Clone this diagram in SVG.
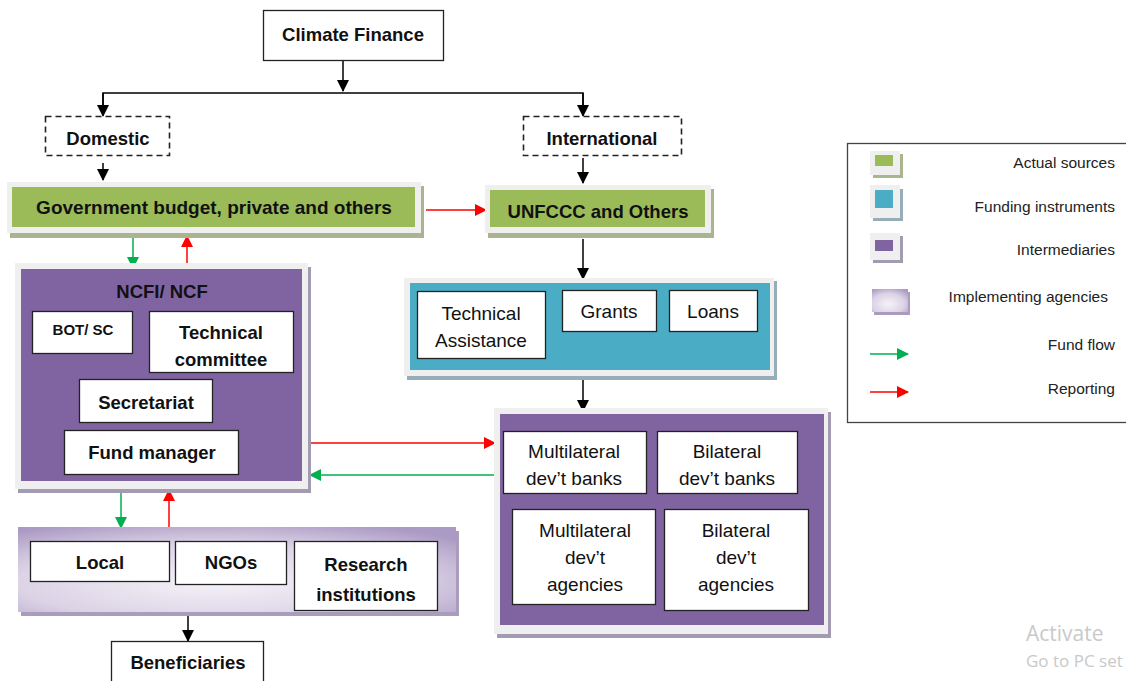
<svg xmlns="http://www.w3.org/2000/svg" width="1126" height="681" viewBox="0 0 1126 681">
  <style>
    .t { font-family: "Liberation Sans", Arial, sans-serif; fill: #111; text-anchor: middle; }
    .b { font-weight: bold; font-size: 18.5px; }
    .r { font-size: 19px; }
    .lg { font-family: "Liberation Sans", Arial, sans-serif; font-size: 15.5px; fill: #222; text-anchor: end; }
    .wbox { fill: #ffffff; stroke: #222; stroke-width: 1.3; }
    .dash { fill: #ffffff; stroke: #222; stroke-width: 1.6; stroke-dasharray: 6 4; }
    .frame { fill: #efefef; }
    .green { fill: #9bbb59; }
    .teal { fill: #4bacc6; }
    .purple { fill: #8064a2; }
    .k { stroke: #000; stroke-width: 1.5; fill: none; }
    .g { stroke: #00b050; stroke-width: 1.5; fill: none; }
    .rd { stroke: #ff0000; stroke-width: 1.5; fill: none; }
  </style>
  <defs>
    <marker id="ak" markerUnits="userSpaceOnUse" markerWidth="12" markerHeight="12" refX="11" refY="6" orient="auto">
      <path d="M0,0 L12,6 L0,12 Z" fill="#000"/>
    </marker>
    <marker id="ag" markerUnits="userSpaceOnUse" markerWidth="12" markerHeight="12" refX="11" refY="6" orient="auto">
      <path d="M0,0 L12,6 L0,12 Z" fill="#00b050"/>
    </marker>
    <marker id="ar" markerUnits="userSpaceOnUse" markerWidth="12" markerHeight="12" refX="11" refY="6" orient="auto">
      <path d="M0,0 L12,6 L0,12 Z" fill="#ff0000"/>
    </marker>
    <radialGradient id="lav" cx="0.45" cy="0.65" r="0.75">
      <stop offset="0" stop-color="#f5f2f8"/>
      <stop offset="0.6" stop-color="#dcd3e6"/>
      <stop offset="1" stop-color="#ab9ac3"/>
    </radialGradient>
  </defs>

  <rect width="1126" height="681" fill="#ffffff"/>

  <!-- connectors -->
  <g id="connectors">
    <path class="k" d="M343,60 V91" marker-end="url(#ak)"/>
    <path class="k" d="M103,115 V93 H583 V115" />
    <path class="k" d="M103,93 V116" marker-end="url(#ak)"/>
    <path class="k" d="M583,93 V116" marker-end="url(#ak)"/>
    <path class="k" d="M103,163 V180" marker-end="url(#ak)"/>
    <path class="k" d="M583,158 V183" marker-end="url(#ak)"/>
    <path class="rd" d="M426,210 H486" marker-end="url(#ar)"/>
    <path class="k" d="M583,239 V279" marker-end="url(#ak)"/>
    <path class="k" d="M583,380 V411" marker-end="url(#ak)"/>
    <path class="g" d="M133,238 V268" marker-end="url(#ag)"/>
    <path class="rd" d="M187,263 V236" marker-end="url(#ar)"/>
    <path class="rd" d="M311,443 H495" marker-end="url(#ar)"/>
    <path class="g" d="M494,475 H310" marker-end="url(#ag)"/>
    <path class="g" d="M121,491 V528" marker-end="url(#ag)"/>
    <path class="rd" d="M169,528 V490" marker-end="url(#ar)"/>
    <path class="k" d="M188,616 V641" marker-end="url(#ak)"/>
  </g>

  <g id="climate-finance">
    <rect class="wbox" x="263.5" y="10.5" width="180" height="50"/>
    <text class="t b" x="353" y="41">Climate Finance</text>
  </g>

  <g id="domestic">
    <rect class="dash" x="45.5" y="116.5" width="124" height="39"/>
    <text class="t b" x="108" y="145">Domestic</text>
  </g>

  <g id="international">
    <rect class="dash" x="523.5" y="116.5" width="158" height="39"/>
    <text class="t b" x="602" y="145">International</text>
  </g>

  <g id="government-budget">
    <rect x="10" y="186" width="414" height="52" fill="#aab590"/>
    <rect class="frame" x="7" y="182" width="414" height="51"/>
    <rect class="green" x="12" y="187" width="403" height="40"/>
    <text class="t b" style="font-size:19px" x="214" y="214">Government budget, private and others</text>
  </g>

  <g id="unfccc">
    <rect x="488" y="189" width="226" height="49" fill="#aab590"/>
    <rect class="frame" x="485" y="185" width="226" height="48"/>
    <rect class="green" x="490" y="190" width="215" height="37"/>
    <text class="t b" x="598" y="218">UNFCCC and Others</text>
  </g>

  <g id="funding-instruments">
    <rect x="407" y="281" width="370" height="99" fill="#95aeb8"/>
    <rect class="frame" x="404" y="278" width="370" height="98"/>
    <rect class="teal" x="410" y="283" width="360" height="87"/>
    <g id="technical-assistance">
      <rect class="wbox" x="417.5" y="291.5" width="128" height="67"/>
      <text class="t r" x="481" y="320">Technical</text>
      <text class="t r" x="481" y="347">Assistance</text>
    </g>
    <g id="grants">
      <rect class="wbox" x="562.5" y="290.5" width="94" height="41"/>
      <text class="t r" x="609" y="318">Grants</text>
    </g>
    <g id="loans">
      <rect class="wbox" x="669.5" y="290.5" width="88" height="41"/>
      <text class="t r" x="713" y="318">Loans</text>
    </g>
  </g>

  <g id="ncfi-ncf">
    <rect x="18" y="267" width="293" height="226" fill="#a39bb1"/>
    <rect class="frame" x="15" y="263" width="293" height="226"/>
    <rect class="purple" x="21" y="269" width="281" height="212"/>
    <text class="t b" x="162" y="298">NCFI/ NCF</text>
    <g id="bot-sc">
      <rect class="wbox" x="32.5" y="311.5" width="100" height="42"/>
      <text class="t" style="font-weight:bold;font-size:15px" x="83" y="335">BOT/ SC</text>
    </g>
    <g id="technical-committee">
      <rect class="wbox" x="149.5" y="311.5" width="144" height="61"/>
      <text class="t b" x="221" y="339">Technical</text>
      <text class="t b" x="221" y="366">committee</text>
    </g>
    <g id="secretariat">
      <rect class="wbox" x="79.5" y="379.5" width="133" height="43"/>
      <text class="t b" x="146" y="409">Secretariat</text>
    </g>
    <g id="fund-manager">
      <rect class="wbox" x="64.5" y="430.5" width="174" height="44"/>
      <text class="t b" x="152" y="459">Fund manager</text>
    </g>
  </g>

  <g id="intermediaries">
    <rect x="497" y="412" width="334" height="226" fill="#a39bb1"/>
    <rect class="frame" x="494" y="408" width="334" height="226"/>
    <rect class="purple" x="500" y="414" width="324" height="211"/>
    <g id="multilateral-banks">
      <rect class="wbox" x="503.5" y="431.5" width="143" height="62"/>
      <text class="t r" x="574" y="458">Multilateral</text>
      <text class="t r" x="574" y="485">dev’t banks</text>
    </g>
    <g id="bilateral-banks">
      <rect class="wbox" x="657.5" y="431.5" width="140" height="62"/>
      <text class="t r" x="727" y="458">Bilateral</text>
      <text class="t r" x="727" y="485">dev’t banks</text>
    </g>
    <g id="multilateral-agencies">
      <rect class="wbox" x="512.5" y="509.5" width="143" height="95"/>
      <text class="t r" x="585" y="537">Multilateral</text>
      <text class="t r" x="585" y="564">dev’t</text>
      <text class="t r" x="585" y="591">agencies</text>
    </g>
    <g id="bilateral-agencies">
      <rect class="wbox" x="664.5" y="509.5" width="144" height="101"/>
      <text class="t r" x="736" y="537">Bilateral</text>
      <text class="t r" x="736" y="564">dev’t</text>
      <text class="t r" x="736" y="591">agencies</text>
    </g>
  </g>

  <g id="implementing-agencies">
    <rect x="21" y="531" width="438" height="85" fill="#a99cbd"/>
    <rect x="18" y="527" width="438" height="85" fill="url(#lav)"/>
    <g id="local">
      <rect class="wbox" x="30.5" y="541.5" width="139" height="40"/>
      <text class="t b" x="100" y="569">Local</text>
    </g>
    <g id="ngos">
      <rect class="wbox" x="175.5" y="541.5" width="111" height="43"/>
      <text class="t b" x="231" y="569">NGOs</text>
    </g>
    <g id="research-institutions">
      <rect class="wbox" x="294.5" y="541.5" width="143" height="69"/>
      <text class="t b" x="366" y="571">Research</text>
      <text class="t b" x="366" y="601">institutions</text>
    </g>
  </g>

  <g id="beneficiaries">
    <rect class="wbox" x="111.5" y="641.5" width="152" height="50"/>
    <text class="t b" x="188" y="669">Beneficiaries</text>
  </g>

  <g id="legend">
    <rect x="847.5" y="143.5" width="290" height="279" fill="#ffffff" stroke="#444" stroke-width="1.3"/>
    <rect x="873" y="154" width="30" height="24" fill="#aab590"/>
    <rect x="870" y="151" width="30" height="24" fill="#efefef"/>
    <rect x="875" y="155" width="18" height="11" fill="#9bbb59"/>
    <text class="lg" x="1115" y="168">Actual sources</text>

    <rect x="873" y="189" width="30" height="32" fill="#95aeb8"/>
    <rect x="870" y="185" width="30" height="33" fill="#efefef"/>
    <rect x="875" y="190" width="18" height="18" fill="#4bacc6"/>
    <text class="lg" x="1115" y="212">Funding instruments</text>

    <rect x="873" y="236" width="30" height="27" fill="#a39bb1"/>
    <rect x="870" y="233" width="30" height="27" fill="#efefef"/>
    <rect x="875" y="240" width="18" height="11" fill="#8064a2"/>
    <text class="lg" x="1115" y="255">Intermediaries</text>

    <rect x="874" y="292" width="36" height="23" fill="#a99cbd"/>
    <rect x="872" y="289" width="36" height="23" fill="url(#lav)"/>
    <text class="lg" x="1108" y="302">Implementing agencies</text>

    <path class="g" d="M870,354 H908" marker-end="url(#ag)"/>
    <text class="lg" x="1115" y="350">Fund flow</text>

    <path class="rd" d="M870,392 H908" marker-end="url(#ar)"/>
    <text class="lg" x="1115" y="394">Reporting</text>
  </g>

  <g id="watermark" fill="#c9c9c9" font-family="'Open Sans', 'Liberation Sans', sans-serif">
    <text x="1026" y="641" font-size="21">Activate</text>
    <text x="1026" y="667" font-size="17">Go to PC set</text>
  </g>
</svg>
